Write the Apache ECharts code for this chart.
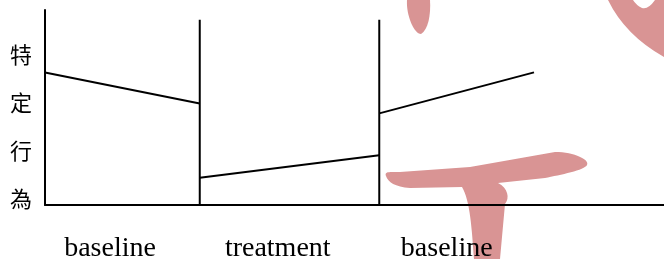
<!DOCTYPE html>
<html>
<head>
<meta charset="utf-8">
<script src="https://cdn.jsdelivr.net/npm/echarts@6/dist/echarts.min.js"></script>
<style>
  html, body { margin: 0; padding: 0; background: #fff; }
  #main { width: 664px; height: 259px; }
</style>
</head>
<body>
<div id="main"></div>
<script>
// 各階段資料 (x = 時間, y = 特定行為)
var baseline1 = [[0, 68], [25, 52]];
var treatment = [[25, 14], [54, 25.5]];
var baseline2 = [[54, 47], [79, 68]];

// 階段分隔線
var phaseBreaks = [25, 54];
var breakTop = 95;

// x 軸文字
var phaseNames = ['baseline', 'treatment', 'baseline'];
var phaseLabelPos = [10.5, 37.6, 64.9];

var yTitle = '特定行為';

// 浮水印筆畫
var wmPaths = [
    'M407,0 C406,15 414,34 421,34 C428,30 431,15 430,0 Z',
    'M608,0 Q625,35 664,57 L664,0 L655,0 Q648,10 642,8 Q636,5 633,0 Z',
    'M386,176 C384,171 390,172 400,172 L470,167 L555,152 C575,152 590,160 587,165 C585,170 560,175 545,178 L498,183 C508,188 510,198 505,204 L500,259 L474,259 C472,230 470,200 462,187 L410,188 C395,187 388,182 386,176 Z'
];

function createChart() {
    var myChart = echarts.init(document.getElementById('main'));

    var lineStyle = { color: '#000', width: 2 };
    var series = [];
    [baseline1, treatment, baseline2].forEach(function (d, i) {
        series.push({
            name: phaseNames[i],
            type: 'line',
            data: d,
            symbol: 'none',
            lineStyle: lineStyle,
            silent: true,
            z: 3
        });
    });
    phaseBreaks.forEach(function (x) {
        series.push({
            type: 'line',
            data: [[x, 0], [x, breakTop]],
            symbol: 'none',
            lineStyle: lineStyle,
            silent: true,
            z: 3
        });
    });

    var graphics = [{
        type: 'text',
        left: 10,
        top: 31,
        style: {
            text: yTitle.split('').join('\n'),
            font: '22px "Noto Sans CJK TC"',
            lineHeight: 48,
            fill: '#000'
        }
    }];
    wmPaths.forEach(function (p, i) {
        echarts.graphic.registerShape('wm' + i, echarts.graphic.extendPath(p, {}));
        graphics.push({
            type: 'wm' + i,
            x: 0, y: 0,
            z: -1,
            silent: true,
            style: { fill: '#d99494' }
        });
    });

    var option = {
        animation: false,
        backgroundColor: '#fff',
        grid: { left: 45, right: 0, top: 10, bottom: 54, outerBoundsMode: 'none' },
        xAxis: {
            type: 'value',
            min: 0,
            max: 100,
            axisLine: { lineStyle: { color: '#000', width: 2 } },
            axisTick: { show: false },
            splitLine: { show: false },
            axisLabel: {
                customValues: phaseLabelPos,
                margin: 30,
                color: '#000',
                fontFamily: 'Liberation Serif',
                fontSize: 28,
                formatter: function (v) {
                    var i = phaseLabelPos.indexOf(v);
                    return i >= 0 ? phaseNames[i] : '';
                }
            }
        },
        yAxis: {
            type: 'value',
            min: 0,
            max: 100,
            axisLine: { show: true, lineStyle: { color: '#000', width: 2 } },
            axisTick: { show: false },
            axisLabel: { show: false },
            splitLine: { show: false }
        },
        graphic: graphics,
        series: series
    };

    myChart.setOption(option);
}

createChart();
</script>
</body>
</html>
